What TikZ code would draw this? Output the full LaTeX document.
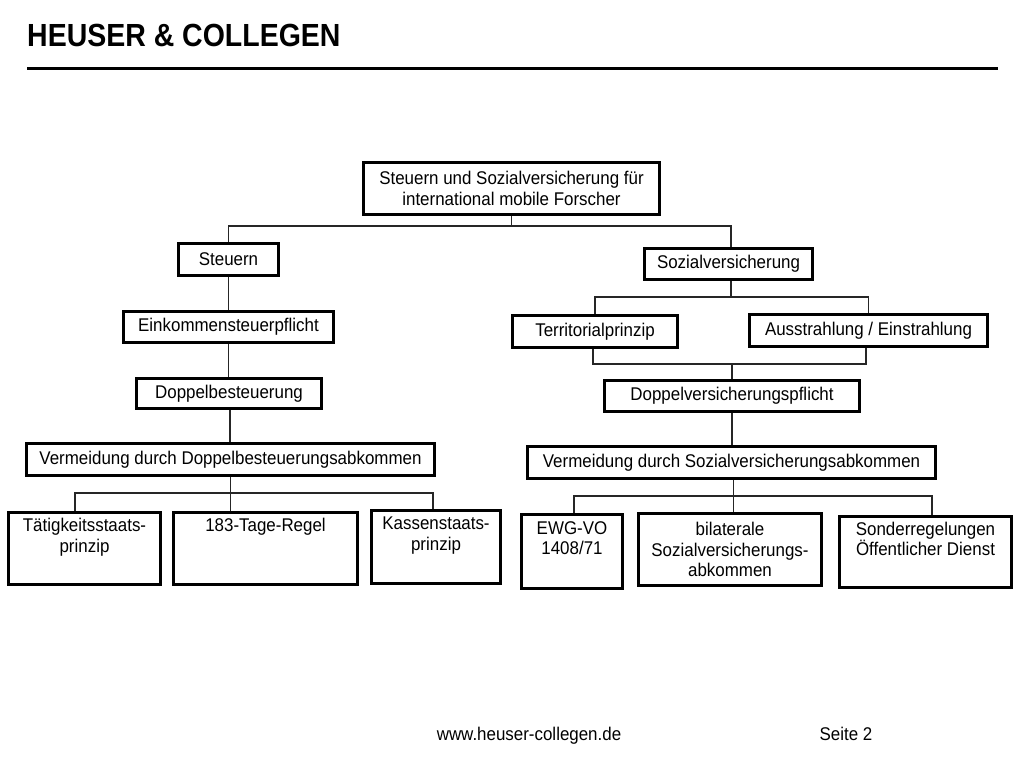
\documentclass[tikz,border=0pt]{standalone}
\usepackage{fontspec}
\setmainfont{Liberation Sans}[FakeStretch=0.92]
\newfontfamily\titlefont{Liberation Sans}[FakeStretch=0.89]
\usetikzlibrary{calc}
\begin{document}
\begin{tikzpicture}[x=1pt,y=-1pt,
  box/.style={draw=black, line width=3pt, inner sep=0pt, align=center,
    font=\fontsize{18.4}{20.5}\selectfont},
  conn/.style={draw=black!85, line width=1.1pt},
  txt/.style={inner sep=0pt, font=\fontsize{18.4}{20.5}\selectfont}]
\useasboundingbox (0,0) rectangle (1024,768);
% header
\node[anchor=base west, inner sep=0pt, font=\titlefont\fontsize{32}{34}\selectfont\bfseries] (title) at (27,46) {HEUSER \& COLLEGEN};
\coordinate (rl) at (27,68);
\coordinate (rr) at (998,68);
\draw[line width=3pt] (rl) -- (rr);
% boxes
\node[box, minimum width=296pt, minimum height=52pt] (top) at (511.5,188.5) {Steuern und Sozialversicherung für\\international mobile Forscher};
\node[box, minimum width=100pt, minimum height=32pt] (st) at (228.5,259.5) {Steuern};
\node[box, minimum width=168pt, minimum height=31pt] (sv) at (728.5,264) {Sozialversicherung};
\node[box, minimum width=210pt, minimum height=31pt] (ek) at (228.5,327) {Einkommensteuerpflicht};
\node[box, minimum width=185pt, minimum height=30pt] (db) at (229,393.5) {Doppelbesteuerung};
\node[box, minimum width=408pt, minimum height=32pt] (vd) at (230.5,459.5) {Vermeidung durch Doppelbesteuerungsabkommen};
\node[box, minimum width=152pt, minimum height=72pt] (tg) at (84.5,548.5) {Tätigkeitsstaats-\\prinzip\\\strut};
\node[box, minimum width=184pt, minimum height=72pt] (rg) at (265.5,548.5) {183-Tage-Regel\\\strut\\\strut};
\node[box, minimum width=129pt, minimum height=73pt] (ks) at (436,547) {Kassenstaats-\\prinzip\\\strut};
\node[box, minimum width=165pt, minimum height=32pt] (tp) at (595,331.5) {Territorialprinzip};
\node[box, minimum width=238pt, minimum height=32pt] (au) at (868.5,330.5) {Ausstrahlung / Einstrahlung};
\node[box, minimum width=255pt, minimum height=31pt] (dv) at (732,396) {Doppelversicherungspflicht};
\node[box, minimum width=408pt, minimum height=32pt] (vs) at (731.5,462.5) {Vermeidung durch Sozialversicherungsabkommen};
\node[box, minimum width=101pt, minimum height=74pt] (ew) at (572,551.5) {EWG-VO\\1408/71\\\strut};
\node[box, minimum width=183pt, minimum height=72pt] (bl) at (730,549.5) {bilaterale\\Sozialversicherungs-\\abkommen};
\node[box, minimum width=172pt, minimum height=71pt] (so) at (925.5,552) {Sonderregelungen\\Öffentlicher Dienst\\\strut};
% connectors
\coordinate (j1) at ($(top.south)+(0,10)$);
\draw[conn] (top.south) -- (j1);
\draw[conn] (st.north) |- (j1) -| ($(sv.north)+(2.5,0)$);
\draw[conn] (st.south) -- (st.south |- ek.north);
\draw[conn] (ek.south) -- (ek.south |- db.north);
\coordinate (dbb) at ($(db.south)+(1,0)$);
\draw[conn] (dbb) -- (dbb |- vd.north);
\coordinate (j2) at ($(vd.south)+(0,16)$);
\draw[conn] (vd.south) -- (vd.south |- rg.north);
\draw[conn] ($(tg.north)+(-9.5,0)$) |- (j2) -| ($(ks.north)+(-3,0)$);
\coordinate (j3) at ($(sv.south)+(2.5,16)$);
\draw[conn] ($(sv.south)+(2.5,0)$) -- (j3);
\draw[conn] (tp.north) |- (j3) -| (au.north);
\coordinate (j4) at ($(dv.north)+(0,-15)$);
\draw[conn] ($(tp.south)+(-2,0)$) |- (j4) -| ($(au.south)+(-2.5,0)$);
\draw[conn] (j4) -- (dv.north);
\draw[conn] (dv.south) -- (dv.south |- vs.north);
\coordinate (vsb) at ($(vs.south)+(2,0)$);
\coordinate (j5) at ($(vs.south)+(2,16)$);
\draw[conn] (vsb) -- (vsb |- bl.north);
\draw[conn] ($(ew.north)+(2,0)$) |- (j5) -| ($(so.north)+(6.5,0)$);
% footer
\node[txt] (url) at (529,736) {www.heuser-collegen.de};
\node[txt] (page) at (846,734) {Seite 2};
\end{tikzpicture}
\end{document}
